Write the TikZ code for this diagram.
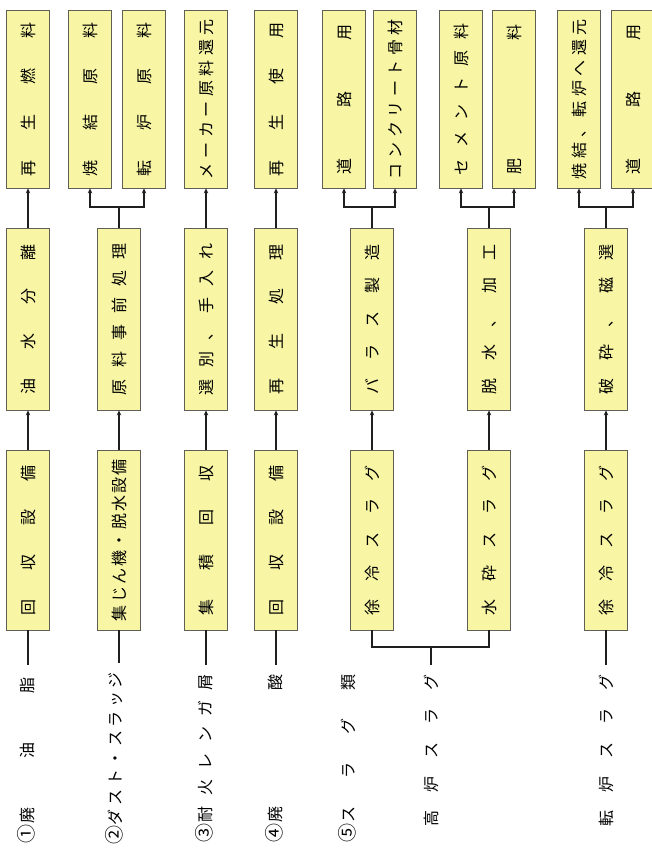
\documentclass[tikz,border=0pt]{standalone}
\usepackage{fontspec}
\setmainfont{Noto Sans CJK JP}
\usetikzlibrary{arrows.meta}
\definecolor{boxfill}{RGB}{248,246,164}
\definecolor{boxline}{RGB}{95,95,85}
\newcommand\spr[2]{\makebox[#1pt][s]{#2}}
\newcommand\cn[1]{{\fontsize{19}{19}\selectfont #1}}
\begin{document}
\begin{tikzpicture}[x=1pt,y=-1pt,
  box/.style={draw=boxline, fill=boxfill, line width=0.8pt, rotate=90,
    minimum height=43pt, inner sep=0pt, font=\fontsize{16}{16}\selectfont},
  topbox/.style={box, minimum width=178pt},
  midbox/.style={box, minimum width=182pt},
  botbox/.style={box, minimum width=180pt},
  lab/.style={rotate=90, inner sep=0pt, font=\fontsize{16}{16}\selectfont},
  conn/.style={line width=2.1pt, black!88},
  arr/.style={conn, -{Stealth[length=5pt,width=4.5pt]}}]
\useasboundingbox (0,0) rectangle (651,851);

% top row
\node[topbox] (t1)  at (28,99)  {\spr{154}{再\hfil 生\hfil 燃\hfil 料}};
\node[topbox] (t2a) at (90,99)  {\spr{154}{焼\hfil 結\hfil 原\hfil 料}};
\node[topbox] (t2b) at (144,99) {\spr{154}{転\hfil 炉\hfil 原\hfil 料}};
\node[topbox] (t3)  at (206,99) {\spr{160}{メ\hfil ー\hfil カ\hfil ー\hfil 原\hfil 料\hfil 還\hfil 元}};
\node[topbox] (t4)  at (276,99) {\spr{154}{再\hfil 生\hfil 使\hfil 用}};
\node[topbox] (t5a) at (344,99) {\spr{150}{道\hfil 路\hfil 用}};
\node[topbox] (t5b) at (395,99) {\spr{160}{コ\hfil ン\hfil ク\hfil リ\hfil ー\hfil ト\hfil 骨\hfil 材}};
\node[topbox] (t6a) at (461,99) {\spr{152}{セ\hfil メ\hfil ン\hfil ト\hfil 原\hfil 料}};
\node[topbox] (t6b) at (514,99) {\spr{150}{肥\hfil 料}};
\node[topbox] (t7a) at (579,99) {\spr{160}{焼\hfil 結\hfil 、\hfil 転\hfil 炉\hfil へ\hfil 還\hfil 元}};
\node[topbox] (t7b) at (633,99) {\spr{150}{道\hfil 路\hfil 用}};

% middle row
\node[midbox] (m1) at (28,319)  {\spr{150}{油\hfil 水\hfil 分\hfil 離}};
\node[midbox] (m2) at (119,319) {\spr{152}{原\hfil 料\hfil 事\hfil 前\hfil 処\hfil 理}};
\node[midbox] (m3) at (206,319) {\spr{152}{選\hfil 別\hfil 、\hfil 手\hfil 入\hfil れ}};
\node[midbox] (m4) at (276,319) {\spr{150}{再\hfil 生\hfil 処\hfil 理}};
\node[midbox] (m5) at (372,319) {\spr{150}{バ\hfil ラ\hfil ス\hfil 製\hfil 造}};
\node[midbox] (m6) at (489,319) {\spr{150}{脱\hfil 水\hfil 、\hfil 加\hfil 工}};
\node[midbox] (m7) at (606,319) {\spr{150}{破\hfil 砕\hfil 、\hfil 磁\hfil 選}};

% bottom row
\node[botbox] (b1) at (28,540)  {\spr{150}{回\hfil 収\hfil 設\hfil 備}};
\node[botbox] (b2) at (119,540) {\spr{162}{集\hfil じ\hfil ん\hfil 機\hfil ・\hfil 脱\hfil 水\hfil 設\hfil 備}};
\node[botbox] (b3) at (206,540) {\spr{150}{集\hfil 積\hfil 回\hfil 収}};
\node[botbox] (b4) at (276,540) {\spr{150}{回\hfil 収\hfil 設\hfil 備}};
\node[botbox] (b5) at (372,540) {\spr{150}{徐\hfil 冷\hfil ス\hfil ラ\hfil グ}};
\node[botbox] (b6) at (489,540) {\spr{150}{水\hfil 砕\hfil ス\hfil ラ\hfil グ}};
\node[botbox] (b7) at (606,540) {\spr{150}{徐\hfil 冷\hfil ス\hfil ラ\hfil グ}};

% labels
\node[lab] (l1) at (26,760)  {\spr{166}{\cn{①}\kern1pt 廃\hfil 油\hfil 脂}};
\node[lab] (l2) at (114,758) {\spr{172}{\cn{②}ダ\hfil ス\hfil ト\hfil ・\hfil ス\hfil ラ\hfil ッ\hfil ジ}};
\node[lab] (l3) at (204,758) {\spr{168}{\cn{③}\kern1pt 耐\hfil 火\hfil レ\hfil ン\hfil ガ\hfil 屑}};
\node[lab] (l4) at (274,758) {\spr{168}{\cn{④}\kern1pt 廃\hfil 酸}};
\node[lab] (l5) at (347,758) {\spr{168}{\cn{⑤}\kern1pt ス\hfil ラ\hfil グ\hfil 類}};
\node[lab] (hl) at (431,750) {\spr{152}{高\hfil 炉\hfil ス\hfil ラ\hfil グ}};
\node[lab] (tl) at (606,750) {\spr{152}{転\hfil 炉\hfil ス\hfil ラ\hfil グ}};

% inputs
\draw[conn, shorten >=12pt] (b1.west) -- (b1.west |- l1.east);
\draw[conn, shorten >=9pt] (b2.west) -- (b2.west |- l2.east);
\draw[conn, shorten >=9pt] (b3.west) -- (b3.west |- l3.east);
\draw[conn, shorten >=9pt] (b4.west) -- (b4.west |- l4.east);
\coordinate (hj) at (431,647);
\draw[conn, shorten <=9pt] (hl.east) -- (hj);
\draw[conn] (hj) -| (b5.west);
\draw[conn] (hj) -| (b6.west);
\draw[conn, shorten >=9pt] (b7.west) -- (b7.west |- tl.east);

% bottom to middle
\foreach \i in {1,...,7}{\draw[arr] (b\i.east) -- (m\i.west);}

% middle to top
\draw[arr] (m1.east) -- (t1.west);
\draw[arr] (m3.east) -- (t3.west);
\draw[arr] (m4.east) -- (t4.west);
\coordinate (j2) at (119,207);
\coordinate (j5) at (372,207);
\coordinate (j6) at (489,207);
\coordinate (j7) at (606,207);
\draw[conn] (m2.east) -- (j2);
\draw[arr] (j2) -| (t2a.west);
\draw[arr] (j2) -| (t2b.west);
\draw[conn] (m5.east) -- (j5);
\draw[arr] (j5) -| (t5a.west);
\draw[arr] (j5) -| (t5b.west);
\draw[conn] (m6.east) -- (j6);
\draw[arr] (j6) -| (t6a.west);
\draw[arr] (j6) -| (t6b.west);
\draw[conn] (m7.east) -- (j7);
\draw[arr] (j7) -| (t7a.west);
\draw[arr] (j7) -| (t7b.west);
\end{tikzpicture}
\end{document}
